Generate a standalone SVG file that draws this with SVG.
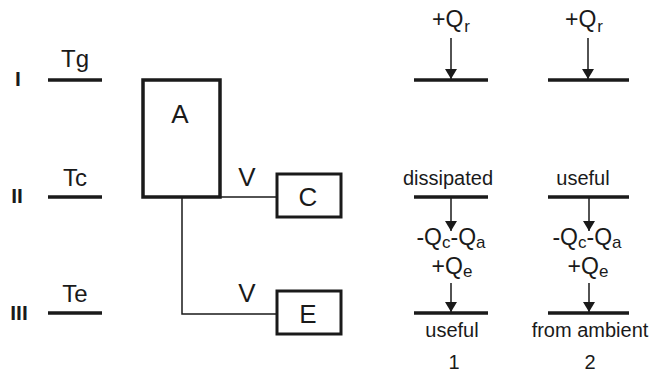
<svg xmlns="http://www.w3.org/2000/svg" width="651" height="376" viewBox="0 0 651 376">
<style>
text{font-family:"Liberation Sans",Arial,sans-serif;fill:#1a1a1a;text-anchor:middle}
.t{font-size:20px}
.q{font-size:23px}
.big{font-size:26px}
.tl{font-size:24px}
.lvl{font-size:21px;font-weight:bold}
.sub{font-size:17px}
.lev{stroke:#1a1a1a;stroke-width:3.5;fill:none}
.box{stroke:#1a1a1a;stroke-width:3.5;fill:#fff}
.thin{stroke:#1a1a1a;stroke-width:1.5;fill:none}
</style>
<defs>
<marker id="ah" viewBox="0 0 10 12" refX="10" refY="6" markerWidth="11" markerHeight="12" markerUnits="userSpaceOnUse" orient="auto">
<path d="M0,0 L10,6 L0,12 z" fill="#1a1a1a"/>
</marker>
</defs>
<g id="levels">
<text class="lvl" x="18" y="86">I</text>
<text class="lvl" x="17" y="203">II</text>
<text class="lvl" x="19" y="320">III</text>
<line class="lev" x1="48" y1="80" x2="102" y2="80"/>
<line class="lev" x1="48" y1="197" x2="102" y2="197"/>
<line class="lev" x1="48" y1="313" x2="102" y2="313"/>
<text class="tl" x="75" y="67">Tg</text>
<text class="tl" x="75" y="186">Tc</text>
<text class="tl" x="75" y="302">Te</text>
</g>
<g id="connectors">
<line class="thin" x1="220" y1="197" x2="277" y2="197"/>
<polyline class="thin" points="182,197 182,314 277,314"/>
<text class="big" x="247" y="186">V</text>
<text class="big" x="247" y="302">V</text>
</g>
<g id="A">
<rect class="box" x="143" y="80" width="77" height="117"/>
<text class="big" x="180" y="123">A</text>
</g>
<g id="C">
<rect class="box" style="stroke-width:3" x="277" y="174" width="64" height="43"/>
<text class="big" x="308" y="206">C</text>
</g>
<g id="E">
<rect class="box" style="stroke-width:3" x="277" y="291" width="64" height="43"/>
<text class="big" x="308" y="323">E</text>
</g>
<g id="col1">
<text class="q" x="451" y="27">+Q<tspan class="sub" dx="1" dy="5">r</tspan></text>
<line class="thin" x1="451" y1="38" x2="451" y2="79" marker-end="url(#ah)"/>
<line class="lev" x1="414" y1="80" x2="488" y2="80"/>
<text class="t" x="448" y="185">dissipated</text>
<line class="lev" x1="414" y1="197" x2="488" y2="197"/>
<line class="thin" x1="451" y1="198" x2="451" y2="231" marker-end="url(#ah)"/>
<text class="q" x="451" y="245">-Q<tspan class="sub" dy="3">c</tspan><tspan dy="-3">-Q</tspan><tspan class="sub" dy="3">a</tspan></text>
<text class="q" x="452" y="274">+Q<tspan class="sub" dy="3">e</tspan></text>
<line class="thin" x1="451" y1="283" x2="451" y2="312" marker-end="url(#ah)"/>
<line class="lev" x1="414" y1="313" x2="488" y2="313"/>
<text class="t" x="452" y="337">useful</text>
<text class="t" x="454" y="369">1</text>
</g>
<g id="col2">
<text class="q" x="584" y="27">+Q<tspan class="sub" dx="1" dy="5">r</tspan></text>
<line class="thin" x1="588" y1="38" x2="588" y2="79" marker-end="url(#ah)"/>
<line class="lev" x1="548" y1="80" x2="629" y2="80"/>
<text class="t" x="583" y="185">useful</text>
<line class="lev" x1="548" y1="197" x2="629" y2="197"/>
<line class="thin" x1="589" y1="198" x2="589" y2="231" marker-end="url(#ah)"/>
<text class="q" x="587" y="245">-Q<tspan class="sub" dy="3">c</tspan><tspan dy="-3">-Q</tspan><tspan class="sub" dy="3">a</tspan></text>
<text class="q" x="588" y="274">+Q<tspan class="sub" dy="3">e</tspan></text>
<line class="thin" x1="589" y1="283" x2="589" y2="312" marker-end="url(#ah)"/>
<line class="lev" x1="548" y1="313" x2="629" y2="313"/>
<text class="t" x="590" y="337">from ambient</text>
<text class="t" x="590" y="369">2</text>
</g>
</svg>
